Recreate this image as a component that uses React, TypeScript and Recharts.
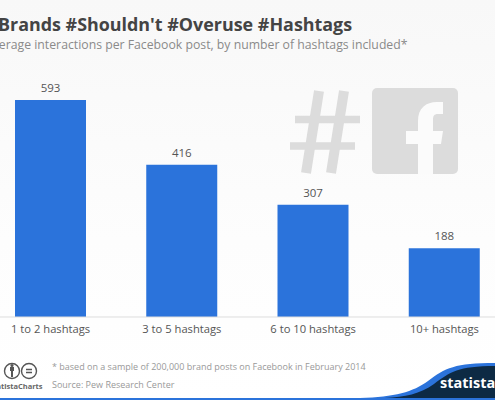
import { Bar, BarChart, LabelList, XAxis, YAxis } from "recharts";

const categories = ["1 to 2 hashtags", "3 to 5 hashtags", "6 to 10 hashtags", "10+ hashtags"];
const interactions = [593, 416, 307, 188];

const chartData = categories.map((name, i) => ({ name, value: interactions[i] }));

const font = "'Open Sans', 'Noto Sans', sans-serif";

// background artwork: title, watermark icons, footer and logo
function Artwork() {
  return (
    <svg width={495} height={400} style={{ position: "absolute", left: 0, top: 0 }} fontFamily={font}>
      <defs>
        <linearGradient id="bg" x1="0" y1="0" x2="0" y2="1">
          <stop offset="0" stopColor="#f8f8f8" />
          <stop offset="0.6" stopColor="#fdfdfd" />
          <stop offset="1" stopColor="#ffffff" />
        </linearGradient>
      </defs>
      <rect width={495} height={400} fill="url(#bg)" />
      <text x={-2} y={31} fontSize={17.9} fontWeight={700} fill="#444444">
        Brands #Shouldn't #Overuse #Hashtags
      </text>
      <text x={-15} y={49} fontSize={12.25} fill="#8a8a8a">
        Average interactions per Facebook post, by number of hashtags included*
      </text>

      {/* hash mark */}
      <g stroke="#dcdcdc" fill="none">
        <path d="M319 91 L306 173 M344 91 L331 173" strokeWidth={10} />
        <path d="M295 119.5 L360 119.5 M290 146 L355 146" strokeWidth={7.5} />
      </g>
      {/* facebook square */}
      <rect x={372} y={88} width={86} height={86} rx={5} fill="#dcdcdc" />
      <path
        d="M418 174 L418 144 L406 144 L406 131 L418 131 L418 121 C418 108 426 102 437 102 L443 102 L443 114 L438 114 C434 114 433 116 433 120 L433 131 L443 131 L441 144 L433 144 L433 174 Z"
        fill="#fbfbfb"
      />

      {/* licence icons */}
      <g stroke="#555555" strokeWidth={1.4} fill="none">
        <circle cx={12} cy={371} r={7.5} />
        <circle cx={29} cy={371} r={7.5} />
      </g>
      <path d="M10 367 h4 v4 h-1 v6 h-2 v-6 h-1 Z" fill="#555555" />
      <circle cx={12} cy={365.5} r={1.5} fill="#555555" />
      <path d="M26 369.5 h6 M26 372.5 h6" stroke="#555555" strokeWidth={1.4} />
      <text x={-11} y={389} fontSize={7.5} fontWeight={700} fill="#666666">
        StatistaCharts
      </text>
      <text x={52} y={370} fontSize={9} fill="#999999">
        * based on a sample of 200,000 brand posts on Facebook in February 2014
      </text>
      <text x={52} y={388} fontSize={9} fill="#999999">
        Source: Pew Research Center
      </text>

      {/* statista logo */}
      <path d="M495 363 C455 363 445 368 428 381 C413 392 395 397 360 398 L495 398 Z" fill="#2b73db" />
      <path d="M495 366 C458 366 450 372 434 384 C420 394 405 397 385 398 L495 398 Z" fill="#0d2a44" />
      <rect x={0} y={398} width={495} height={2} fill="#2b73db" />
      <text x={440} y={388} fontSize={14.5} fontWeight={700} fill="#ffffff">
        statista
      </text>
    </svg>
  );
}

export default function App() {
  return (
    <div style={{ position: "absolute", left: 0, top: 0, width: 495, height: 400, overflow: "hidden" }}>
      <Artwork />
      <div style={{ position: "absolute", left: -15, top: 0 }}>
        <BarChart
          width={525}
          height={400}
          data={chartData}
          margin={{ top: 100, right: 0, bottom: 53, left: 0 }}
          barCategoryGap={0}
        >
          <XAxis
            dataKey="name"
            height={30}
            axisLine={{ stroke: "#dddddd", strokeWidth: 1 }}
            tickLine={false}
            interval={0}
            tick={{ fill: "#555555", fontSize: 11.2, fontFamily: font }}
          />
          <YAxis hide domain={[0, 593]} />
          <Bar dataKey="value" fill="#2b73db" barSize={71} isAnimationActive={false}>
            <LabelList
              dataKey="value"
              position="top"
              offset={8}
              fill="#555555"
              fontSize={11.5}
              fontFamily={font}
            />
          </Bar>
        </BarChart>
      </div>
    </div>
  );
}
